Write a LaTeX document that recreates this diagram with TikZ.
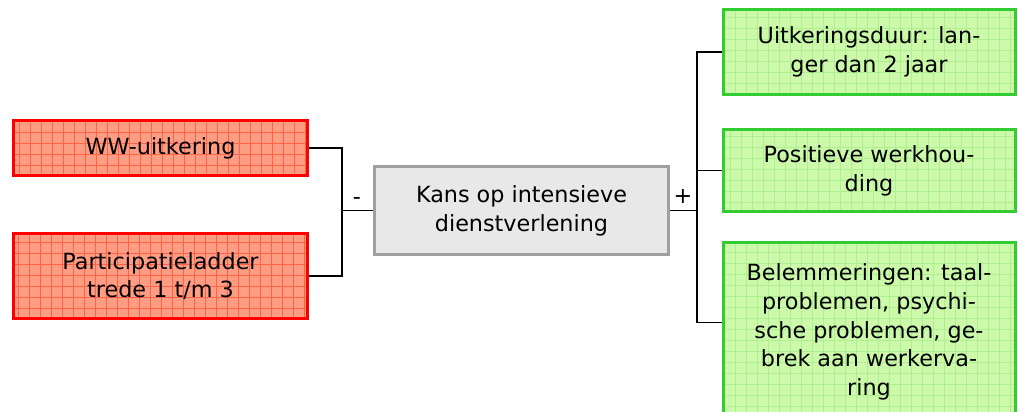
\documentclass[tikz,border=0pt]{standalone}
\usepackage{fontspec}
\setmainfont{DejaVu Sans}
\definecolor{redfill}{HTML}{FF9C84}
\definecolor{redgrid}{HTML}{FF6444}
\definecolor{redborder}{HTML}{FF0000}
\definecolor{greenfill}{HTML}{CCFAAA}
\definecolor{greengrid}{HTML}{AEF090}
\definecolor{greenborder}{HTML}{33CC33}
\definecolor{grayfill}{HTML}{E8E8E8}
\definecolor{grayborder}{HTML}{A0A0A0}
\tikzset{
  txt/.style={font=\fontsize{22.3}{28.8}\selectfont, align=center, inner sep=0pt},
  redbox/.style={txt, draw=redborder, line width=3pt, fill=redfill,
    path picture={\draw[redgrid, line width=0.7pt, step=11pt]
      (path picture bounding box.south west) grid (path picture bounding box.north east);}},
  greenbox/.style={txt, draw=greenborder, line width=3pt, fill=greenfill,
    path picture={\draw[greengrid, line width=0.7pt, step=11pt]
      (path picture bounding box.south west) grid (path picture bounding box.north east);}},
  graybox/.style={txt, draw=grayborder, line width=2.5pt, fill=grayfill},
  conn/.style={black, line width=1.5pt},
}
\begin{document}
\begin{tikzpicture}[x=1pt, y=-1pt]
\useasboundingbox (0,0) rectangle (1018,412);
% left boxes
\node[redbox, minimum width=294pt, minimum height=55pt] (r1) at (160.5,148) {WW-uitkering};
\node[redbox, minimum width=294pt, minimum height=85pt] (r2) at (160.5,276) {Participatieladder\\trede 1 t/m 3};
% centre box
\node[graybox, minimum width=294pt, minimum height=88pt] (g) at (521.5,210.5) {Kans op intensieve\\dienstverlening};
% right boxes
\node[greenbox, minimum width=292pt, minimum height=85pt] (g1) at (869,52) {Uitkeringsduur: lan-\\ger dan 2 jaar};
\node[greenbox, minimum width=292pt, minimum height=82pt] (g2) at (869,170.5) {Positieve werkhou-\\ding};
\node[greenbox, minimum width=292pt, minimum height=180pt] (g3) at (869,332) {Belemmeringen: taal-\\problemen, psychi-\\sche problemen, ge-\\brek aan werkerva-\\ring};
% junctions
\coordinate (jl) at (342,210.5);
\coordinate (jr) at (697,210.5);
\coordinate (c3) at ([yshift=-82pt]g3.north west);
% connectors
\draw[conn] (r1.east) -| (jl);
\draw[conn] (r2.east) -| (jl);
\draw[conn] (jl) -- (g.west);
\draw[conn] (g.east) -- (jr);
\draw[conn] (g1.west) -| (jr);
\draw[conn] (g2.west) -| (jr);
\draw[conn] (c3) -| (jr);
% signs
\node[txt] (minus) at (357,201) {-};
\node[txt] (plus) at (683,197) {+};
\end{tikzpicture}
\end{document}
